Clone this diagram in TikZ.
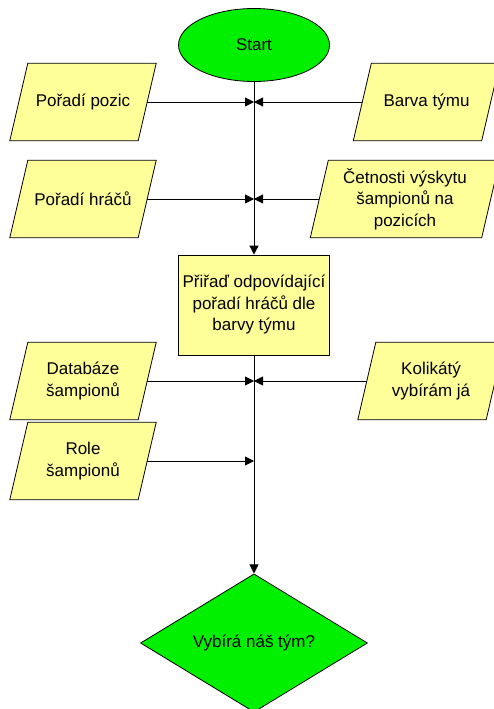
\documentclass[tikz,border=0pt]{standalone}
\usepackage{fontspec}
\setmainfont{Liberation Sans}
\usetikzlibrary{shapes.geometric,arrows.meta,backgrounds}
\definecolor{inyellow}{RGB}{255,255,153}
\definecolor{flowgreen}{RGB}{0,240,0}
\begin{document}
\begin{tikzpicture}[x=1pt,y=-1pt,
  font=\fontsize{17}{21.5}\selectfont,
  every node/.style={inner sep=0pt, text=black},
  terminal/.style={ellipse, draw=black, line width=0.8pt, fill=flowgreen,
    minimum width=151pt, minimum height=73pt},
  iobox/.style={rectangle, align=center, minimum height=77pt},
  procbox/.style={rectangle, draw=black, line width=0.8pt, fill=inyellow,
    align=center, minimum width=151pt, minimum height=100pt},
  decision/.style={diamond, draw=black, line width=0.8pt, fill=flowgreen,
    minimum width=227pt, minimum height=130pt},
  paraedge/.style={draw=black, line width=0.8pt, fill=inyellow},
  flow/.style={draw=black, line width=0.8pt, -{Triangle[length=9pt,width=9pt]}}]

\useasboundingbox (0,0) rectangle (494,709);

% main column
\node[terminal] (start) at (254,45) {Start};
\node[procbox]  (proc)  at (254,305) {Přiřaď odpovídající\\pořadí hráčů dle\\barvy týmu};
\node[decision] (dec)   at (254,643) {Vybírá náš tým?};

% input data (text holders; the slanted outlines are drawn behind them)
\node[iobox, minimum width=128pt] (pp) at (83,102)    {Pořadí pozic};
\node[iobox, minimum width=128pt] (bt) at (426.5,102) {Barva týmu};
\node[iobox, minimum width=128pt] (ph) at (83,199)    {Pořadí hráčů};
\node[iobox, minimum width=171pt] (cv) at (405,199)   {Četnosti výskytu\\šampionů na\\pozicích};
\node[iobox, minimum width=128pt] (db) at (83,381)    {Databáze\\šampionů};
\node[iobox, minimum width=128pt] (kv) at (431,381)   {Kolikátý\\vybírám já};
\node[iobox, minimum width=128pt] (rs) at (83,461)    {Role\\šampionů};

\begin{scope}[on background layer]
  \foreach \n in {pp,bt,ph,cv,db,kv,rs}{
    \path[paraedge] ([xshift=9pt]\n.north west) -- ([xshift=9pt]\n.north east)
      -- ([xshift=-9pt]\n.south east) -- ([xshift=-9pt]\n.south west) -- cycle;
  }
\end{scope}

% junction points on the main line
\coordinate (j1) at (pp.east -| start.south);
\coordinate (j2) at (ph.east -| start.south);
\coordinate (j3) at (db.east -| start.south);
\coordinate (j4) at (rs.east -| start.south);

% connectors
\draw[flow] (start) -- (proc);
\draw[flow] (proc) -- (dec);
\draw[flow] (pp.east) -- (j1);
\draw[flow] (bt.west) -- (j1);
\draw[flow] (ph.east) -- (j2);
\draw[flow] (cv.west) -- (j2);
\draw[flow] (db.east) -- (j3);
\draw[flow] (kv.west) -- (j3);
\draw[flow] (rs.east) -- (j4);
\end{tikzpicture}
\end{document}
